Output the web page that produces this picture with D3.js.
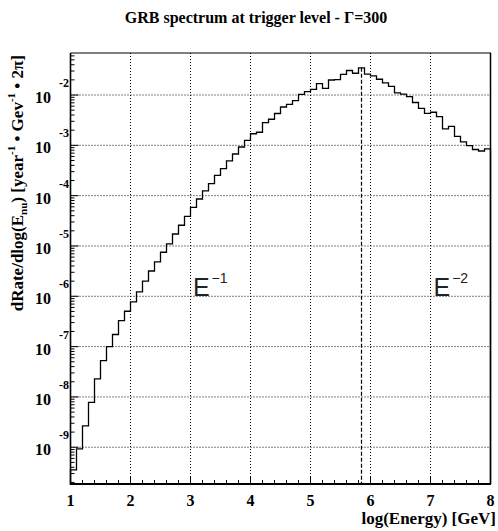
<!DOCTYPE html>
<meta charset="utf-8">
<title>GRB spectrum at trigger level</title>
<style>
body { margin: 0; background: #fff; }
svg { display: block; }
.grid line { stroke: #000; stroke-width: 1; stroke-dasharray: 1,2; }
.lbl { font-family: "Liberation Serif", "Times New Roman", serif; font-weight: bold; fill: #000; }
.ann { font-family: "Liberation Sans", Arial, sans-serif; fill: #222; }
</style>
<svg width="498" height="531"></svg>
<script src="https://d3js.org/d3.v7.min.js"></script>
<script>

// histogram: 70 bins of width 0.1 from log(E)=1 to 8
var binStart = 1.0,
    binWidth = 0.1;

var rate = [
  3.54e-10, 9.25e-10, 2.65e-9, 7.76e-9, 2.28e-8, 5.26e-8, 1.00e-7, 1.74e-7, 3.28e-7, 5.04e-7,
  7.71e-7, 1.22e-6, 2.01e-6, 3.18e-6, 4.81e-6, 7.50e-6, 1.10e-5, 1.73e-5, 2.58e-5, 3.89e-5,
  5.87e-5, 8.59e-5, 1.24e-4, 1.73e-4, 2.54e-4, 3.44e-4, 4.89e-4, 6.73e-4, 9.27e-4, 1.26e-3,
  1.70e-3, 1.82e-3, 2.84e-3, 3.30e-3, 4.29e-3, 5.78e-3, 6.53e-3, 7.71e-3, 1.03e-2, 1.17e-2,
  1.30e-2, 1.68e-2, 1.36e-2, 1.99e-2, 2.03e-2, 2.58e-2, 3.07e-2, 2.71e-2, 3.47e-2, 2.59e-2,
  2.40e-2, 2.06e-2, 1.75e-2, 1.48e-2, 1.10e-2, 1.04e-2, 9.33e-3, 7.10e-3, 5.45e-3, 4.33e-3,
  4.55e-3, 3.71e-3, 2.13e-3, 2.38e-3, 1.51e-3, 1.17e-3, 9.84e-4, 8.26e-4, 7.71e-4, 8.49e-4
];

var xTicks = [1, 2, 3, 4, 5, 6, 7, 8];
var yExponents = [-2, -3, -4, -5, -6, -7, -8, -9];
var peakX = 5.85;

var svg = d3.select("svg");

// plot frame (pixels)
var fLeft = 70.5, fRight = 490.5, fTop = 53, fBottom = 484;

var x = d3.scaleLinear().domain([1, 8]).range([fLeft, fRight]);
var y = d3.scaleLog().domain([1.86e-10, 0.0684]).range([fBottom, fTop]);

// grid
var grid = svg.append("g").attr("class", "grid");
grid.selectAll(".gx")
    .data(xTicks.slice(1))
  .enter().append("line")
    .attr("x1", function(d) { return x(d); })
    .attr("x2", function(d) { return x(d); })
    .attr("y1", fTop)
    .attr("y2", fBottom);
grid.selectAll(".gy")
    .data(yExponents)
  .enter().append("line")
    .attr("x1", fLeft)
    .attr("x2", fRight)
    .attr("y1", function(d) { return y(Math.pow(10, d)); })
    .attr("y2", function(d) { return y(Math.pow(10, d)); });

// histogram outline
var pts = [[binStart, y.domain()[0]]];
rate.forEach(function(v, i) { pts.push([binStart + i * binWidth, v]); });
pts.push([binStart + rate.length * binWidth, rate[rate.length - 1]]);
pts.push([binStart + rate.length * binWidth, y.domain()[0]]);

var line = d3.line()
    .x(function(d) { return x(d[0]); })
    .y(function(d) { return y(d[1]); })
    .curve(d3.curveStepAfter);

svg.append("path")
    .datum(pts)
    .attr("d", line)
    .attr("fill", "none")
    .attr("stroke", "#000")
    .attr("stroke-width", 1.3);

// peak marker
var peakBin = Math.floor((peakX - binStart) / binWidth);
svg.append("line")
    .attr("x1", x(peakX)).attr("x2", x(peakX))
    .attr("y1", y(rate[peakBin])).attr("y2", fBottom)
    .attr("stroke", "#000")
    .attr("stroke-width", 1.2)
    .attr("stroke-dasharray", "4,2");

// frame
svg.append("line").attr("x1", fLeft).attr("x2", fRight + 0.5).attr("y1", fTop).attr("y2", fTop)
    .attr("stroke", "#000").attr("stroke-width", 1);
svg.append("line").attr("x1", fRight).attr("x2", fRight).attr("y1", fTop).attr("y2", fBottom)
    .attr("stroke", "#000").attr("stroke-width", 1.5);

// y axis (ticks inside)
var yMinor = [];
for (var e = -10; e <= -2; e++) {
  for (var m = 1; m < 10; m++) {
    var v = m * Math.pow(10, e);
    if (v >= y.domain()[0] && v <= y.domain()[1]) yMinor.push(v);
  }
}
svg.append("g").selectAll("line")
    .data(yMinor)
  .enter().append("line")
    .attr("x1", fLeft)
    .attr("x2", function(d) { return Math.abs(Math.log10(d) - Math.round(Math.log10(d))) < 1e-6 ? fLeft + 8 : fLeft + 4; })
    .attr("y1", function(d) { return y(d); })
    .attr("y2", function(d) { return y(d); })
    .attr("stroke", "#000");
svg.append("line").attr("x1", fLeft).attr("x2", fLeft).attr("y1", fTop).attr("y2", fBottom + 1)
    .attr("stroke", "#000").attr("stroke-width", 1.6);

// x axis (ticks inside)
var xMinor = d3.range(0, 36).map(function(i) { return 1 + i * 0.2; });
svg.append("g").selectAll("line")
    .data(xMinor)
  .enter().append("line")
    .attr("x1", function(d) { return x(d); })
    .attr("x2", function(d) { return x(d); })
    .attr("y1", fBottom)
    .attr("y2", function(d, i) { return i % 5 === 0 ? fBottom - 8 : fBottom - 4; })
    .attr("stroke", "#000");
svg.append("line").attr("x1", fLeft - 0.5).attr("x2", fRight + 0.5).attr("y1", fBottom).attr("y2", fBottom)
    .attr("stroke", "#000").attr("stroke-width", 2);

// tick labels
svg.selectAll(".xl")
    .data(xTicks)
  .enter().append("text")
    .attr("class", "lbl")
    .attr("x", function(d) { return x(d); })
    .attr("y", 506)
    .attr("text-anchor", "middle")
    .style("font-size", "16px")
    .text(function(d) { return d; });

var yl = svg.selectAll(".yl")
    .data(yExponents)
  .enter().append("g");
yl.append("text")
    .attr("class", "lbl")
    .attr("x", 51)
    .attr("y", function(d) { return y(Math.pow(10, d)) + 8; })
    .attr("text-anchor", "end")
    .style("font-size", "16px")
    .text("10");
yl.append("text")
    .attr("class", "lbl")
    .attr("x", 69)
    .attr("y", function(d) { return y(Math.pow(10, d)) - 8; })
    .attr("text-anchor", "end")
    .style("font-size", "12px")
    .text(function(d) { return "-" + Math.abs(d); });

// titles
svg.append("text")
    .attr("class", "lbl")
    .attr("x", 256)
    .attr("y", 23)
    .attr("text-anchor", "middle")
    .style("font-size", "16px")
    .text("GRB spectrum at trigger level - \u0393=300");

svg.append("text")
    .attr("class", "lbl")
    .attr("x", 496)
    .attr("y", 524)
    .attr("text-anchor", "end")
    .style("font-size", "17px")
    .text("log(Energy) [GeV]");

var yt = svg.append("text")
    .attr("class", "lbl")
    .attr("transform", "translate(23,55) rotate(-90)")
    .attr("text-anchor", "end")
    .style("font-size", "17px");
yt.append("tspan").text("dRate/dlog(E");
yt.append("tspan").attr("dy", 4).style("font-size", "11px").text("nu");
yt.append("tspan").attr("dy", -4).text(") [year");
yt.append("tspan").attr("dy", -8).style("font-size", "11px").text("-1");
yt.append("tspan").attr("dy", 8).text(" \u2022 Gev");
yt.append("tspan").attr("dy", -8).style("font-size", "11px").text("-1");
yt.append("tspan").attr("dy", 8).text(" \u2022 2\u03c0]");

// power-law annotations
function powerLabel(px, py, exp) {
  var t = svg.append("text").attr("class", "ann").attr("x", px).attr("y", py);
  t.append("tspan").style("font-size", "25px").text("E");
  t.append("tspan").attr("dy", -13).attr("dx", 2).style("font-size", "14px").text("\u2212" + exp);
}
powerLabel(x(3.04), y(1e-6), 1);
powerLabel(x(7.05), y(1e-6), 2);

</script>
